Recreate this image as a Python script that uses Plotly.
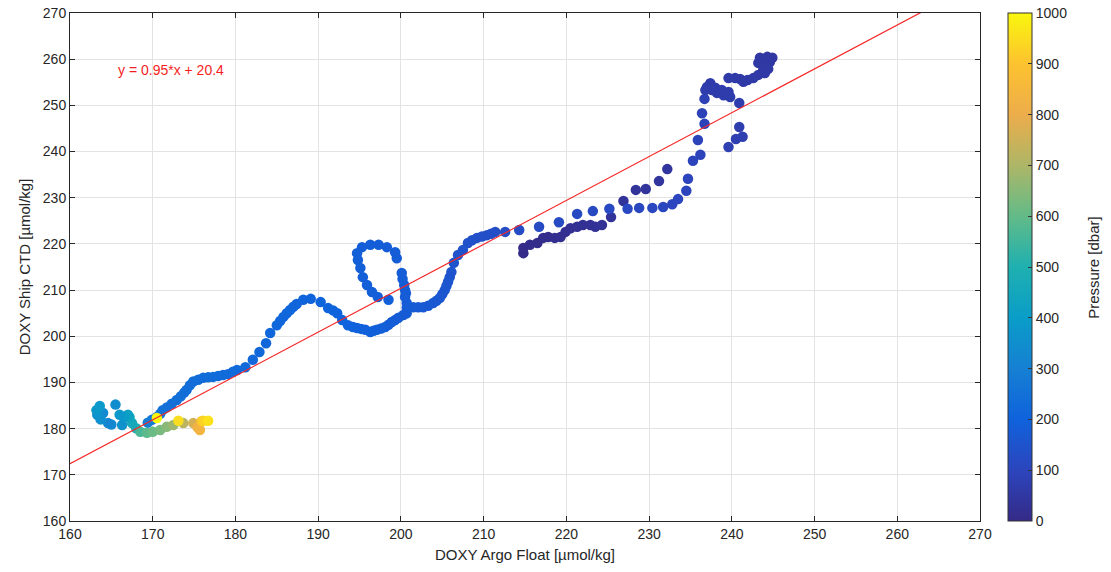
import plotly.graph_objects as go

# ---- data (Argo DOXY, ship CTD DOXY, pressure) ----
argo_doxy = [
    # near-surface dark series
    214.8, 214.8, 215.6, 216.5, 217.2, 217.8, 218.6, 219.3, 219.9, 220.5, 221.3, 222.0, 222.9, 223.5, 224.3,
    225.4, 226.9, 228.4, 229.6, 231.2, 232.2,
    # top-right cluster
    243.4, 244.3, 244.9, 243.2, 244.0, 244.6, 243.8, 244.4, 243.2, 244.0, 242.6, 241.9, 241.0, 240.4, 239.6,
    241.4, 237.4, 237.0, 238.0, 238.8, 239.6, 239.8, 239.0, 238.2, 237.6, 236.8,
    # right branch
    240.9, 240.9, 241.3, 240.5, 239.6,
    # vertical path and upper blue series
    236.7, 236.4, 236.7, 235.9, 236.2, 235.3, 234.7, 234.5, 233.5, 232.8, 231.7, 230.4, 228.8, 227.4, 225.2,
    223.2, 221.3, 219.1, 216.7, 214.3,
    # path 212 -> 201
    212.6, 211.4, 210.9, 210.4, 209.8, 209.2, 208.6, 208.1, 207.5, 206.9, 206.4, 206.1, 205.9, 205.7, 205.5,
    205.3, 205.0, 204.7, 204.3, 203.9, 203.3, 202.7, 202.1, 201.5,
    # column near 200 and loop
    200.7, 200.7, 200.7, 200.5, 200.6, 200.5, 200.4, 200.2, 200.1, 199.5, 199.3, 198.3, 197.3, 196.3, 195.3,
    194.7, 194.8, 195.1, 195.4, 195.9, 196.5, 197.2, 198.5,
    # bottom of the S
    200.3, 199.7, 199.3, 198.9, 198.5, 198.1, 197.6, 197.1, 196.7, 196.3, 195.7, 195.2, 194.7, 194.2, 193.6,
    192.9, 192.3, 191.8,
    # left hump and path down to 170
    191.2, 190.3, 189.1, 188.2, 187.4, 187.0, 186.6, 186.2, 185.8, 185.4, 185.0, 184.2, 183.7, 182.9, 182.1,
    181.2, 180.2, 179.7, 179.1, 178.5, 177.9, 177.3, 176.7, 176.1, 175.5, 174.9, 174.5, 174.1, 173.8, 173.4,
    172.9, 172.3, 171.7, 171.2, 170.9, 170.5, 169.9, 169.4,
    # cyan cluster
    168.0, 167.5, 167.2, 167.0, 166.5, 166.0, 166.3, 165.5, 165.0, 164.6, 164.0, 163.7, 163.3, 163.2, 163.6,
    # green / khaki / orange / yellow tail
    168.5, 169.3, 170.0, 170.9, 171.7, 172.5, 173.7, 174.9, 175.4, 175.7, 175.9, 176.1, 176.7, 173.1, 170.5,
]

ship_doxy = [
    218.0, 219.1, 219.8, 220.2, 221.3, 221.5, 221.3, 221.5, 222.6, 223.4, 223.7, 224.1, 224.1, 223.7, 224.1,
    225.8, 229.3, 231.7, 231.9, 233.6, 236.2,
    260.3, 260.5, 260.3, 259.2, 259.0, 259.4, 257.7, 257.9, 256.6, 257.0, 255.9, 255.5, 255.7, 255.9, 255.9,
    255.1, 254.8, 254.0, 253.8, 253.3, 252.9, 251.8, 252.2, 252.7, 253.3, 253.3,
    250.5, 245.3, 243.2, 242.7, 241.0,
    251.4, 248.3, 246.0, 242.5, 239.3, 238.0, 234.1, 231.5, 229.7, 228.6, 228.0, 227.8, 227.8, 227.6, 227.6,
    227.1, 226.5, 224.7, 223.7, 223.0,
    222.6, 222.6, 222.2, 221.9, 221.6, 221.3, 220.8, 220.2, 218.7, 217.6, 215.9, 213.9, 212.8, 211.8, 210.9,
    210.0, 209.1, 208.3, 207.7, 207.2, 206.6, 206.3, 206.3, 206.3,
    205.0, 206.2, 207.2, 208.5, 209.3, 210.0, 211.1, 212.4, 213.7, 216.9, 218.2, 219.3, 219.8, 219.8, 219.3,
    218.0, 216.5, 214.8, 212.8, 211.1, 209.6, 208.5, 207.9,
    204.6, 204.0, 203.5, 203.1, 202.5, 202.0, 201.7, 201.4, 201.2, 200.9, 201.4, 201.6, 201.8, 202.0, 202.4,
    203.5, 205.0, 205.6,
    206.1, 207.4, 208.1, 207.9, 207.0, 206.4, 205.7, 205.0, 204.2, 203.3, 202.4, 200.7, 198.5, 196.6, 194.9,
    193.3, 192.7, 192.3, 191.8, 191.6, 191.4, 191.2, 191.1, 191.0, 190.6, 190.2, 189.4, 188.4, 187.8, 187.0,
    186.2, 185.4, 184.6, 184.0, 183.2, 182.5, 181.9, 181.3,
    180.1, 181.2, 182.5, 183.0, 182.4, 183.0, 180.8, 185.2, 180.9, 181.2, 183.4, 182.0, 183.0, 184.0, 184.9,
    179.3, 179.1, 179.3, 179.7, 180.4, 180.8, 181.2, 181.2, 180.3, 179.7, 181.6, 181.7, 181.7, 181.7, 182.3,
]

pressure = [
    2, 4, 6, 8, 10, 12, 14, 16, 18, 20, 22, 24, 26, 28, 30,
    32, 34, 36, 38, 40, 42,
    50, 50, 50, 52, 52, 52, 54, 54, 56, 56, 58, 58, 60, 60, 62,
    60, 64, 64, 64, 66, 66, 68, 68, 68, 66, 66,
    72, 74, 76, 78, 80,
    86, 88, 90, 92, 94, 96, 98, 100, 102, 104, 106, 108, 110, 112, 114,
    116, 118, 120, 122, 124,
    128, 130, 132, 134, 136, 138, 140, 142, 144, 146, 148, 150, 152, 154, 156,
    158, 160, 162, 164, 166, 168, 170, 172, 174,
    178, 178, 180, 180, 180, 180, 182, 182, 182, 184, 184, 184, 186, 186, 186,
    188, 188, 188, 190, 190, 190, 190, 190,
    176, 178, 180, 182, 184, 186, 188, 190, 192, 194, 196, 198, 200, 200, 202,
    202, 204, 204,
    206, 206, 208, 208, 210, 210, 212, 212, 214, 214, 216, 216, 218, 218, 220,
    222, 224, 226, 228, 230, 230, 232, 232, 234, 234, 236, 238, 240, 240, 242,
    244, 246, 248, 250, 252, 256, 270, 290,
    480, 460, 440, 420, 400, 380, 360, 340, 330, 320, 330, 350, 360, 380, 390,
    560, 590, 610, 630, 650, 680, 720, 760, 820, 840, 900, 930, 960, 950, 1000,
]

fit_slope = 0.95
fit_intercept = 20.4
fit_label = "y = 0.95*x + 20.4"

x_ticks = [160, 170, 180, 190, 200, 210, 220, 230, 240, 250, 260, 270]
y_ticks = [160, 170, 180, 190, 200, 210, 220, 230, 240, 250, 260, 270]
cbar_ticks = [0, 100, 200, 300, 400, 500, 600, 700, 800, 900, 1000]
cbar_title = "Pressure [dbar]"

# parula-like colour scale (sampled from the reference colour bar)
parula = [
    [0.00, "#352a87"], [0.10, "#2c45bd"], [0.20, "#0f62dc"], [0.30, "#1680d3"],
    [0.40, "#0a9dc8"], [0.50, "#1fb0b0"], [0.60, "#62bb88"], [0.70, "#adb667"],
    [0.80, "#ecad4b"], [0.90, "#fdc22f"], [1.00, "#f9f70e"],
]

font_family = "Liberation Sans, Arial, Helvetica, sans-serif"
axis_col = "#262626"

fig = go.Figure()
fig.add_trace(go.Scatter(
    x=argo_doxy, y=ship_doxy, mode="markers",
    marker=dict(
        size=10.5, color=pressure, colorscale=parula, cmin=0, cmax=1000,
        line=dict(width=0),
        colorbar=dict(
            x=1.0308, xanchor="left", xref="paper", xpad=0,
            y=0.5, yanchor="middle", len=1.0, lenmode="fraction", ypad=0,
            thickness=24, thicknessmode="pixels",
            outlinecolor="#333333", outlinewidth=1,
            tickvals=cbar_ticks, ticks="inside", ticklen=4, tickcolor="#333333",
            ticklabeloverflow="allow",
            tickfont=dict(family=font_family, size=14, color=axis_col),
        ),
    ),
    showlegend=False, hoverinfo="x+y",
))

fit_x = [x_ticks[0], x_ticks[-1]]
fit_y = [fit_slope * v + fit_intercept for v in fit_x]
fig.add_trace(go.Scatter(
    x=fit_x, y=fit_y, mode="lines",
    line=dict(color="rgb(245,40,40)", width=1.2),
    showlegend=False, hoverinfo="skip", cliponaxis=True,
))

fig.add_annotation(
    x=165.6, y=257.6, xref="x", yref="y", text=fit_label, showarrow=False,
    xanchor="left", yanchor="middle",
    font=dict(family=font_family, size=14, color="rgb(245,30,30)"),
)
fig.add_annotation(
    x=1.124, y=0.5, xref="paper", yref="paper", text=cbar_title, showarrow=False,
    textangle=-90, xanchor="center", yanchor="middle",
    font=dict(family=font_family, size=15, color=axis_col),
)

axis_common = dict(
    showgrid=True, gridcolor="#e3e3e3", gridwidth=1,
    showline=True, linecolor=axis_col, linewidth=1, mirror="ticks",
    ticks="inside", ticklen=5, tickcolor=axis_col,
    ticklabeloverflow="allow",
    tickfont=dict(family=font_family, size=14, color=axis_col),
    zeroline=False,
)

fig.update_layout(
    width=1111, height=572,
    margin=dict(l=70, r=131, t=13, b=51, autoexpand=False),
    paper_bgcolor="white", plot_bgcolor="white",
    xaxis=dict(range=[160, 270], tickvals=x_ticks,
               title=dict(text="DOXY Argo Float [µmol/kg]", standoff=8,
                          font=dict(family=font_family, size=15, color=axis_col)),
               **axis_common),
    yaxis=dict(range=[160, 270], tickvals=y_ticks,
               title=dict(text="DOXY Ship CTD [µmol/kg]", standoff=8,
                          font=dict(family=font_family, size=15, color=axis_col)),
               **axis_common),
)

fig.write_html("out.html",
               config={"displayModeBar": False},
               post_script="document.body.style.margin='0';document.body.style.overflow='hidden';")
